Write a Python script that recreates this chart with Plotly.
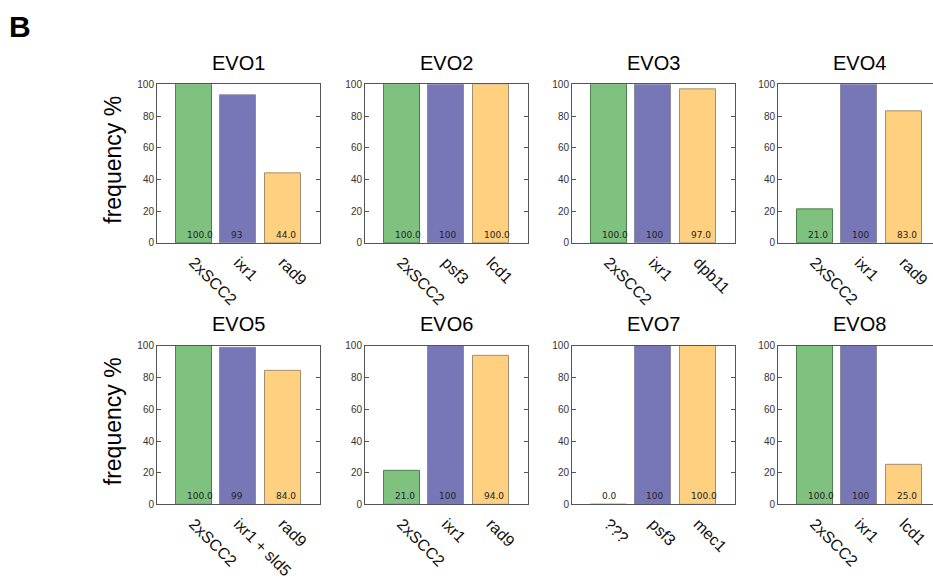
import plotly.graph_objects as go

panel_titles = ["EVO1", "EVO2", "EVO3", "EVO4", "EVO5", "EVO6", "EVO7", "EVO8"]
categories = [
    ["2xSCC2", "ixr1", "rad9"],
    ["2xSCC2", "psf3", "lcd1"],
    ["2xSCC2", "ixr1", "dpb11"],
    ["2xSCC2", "ixr1", "rad9"],
    ["2xSCC2", "ixr1 + sld5", "rad9"],
    ["2xSCC2", "ixr1", "rad9"],
    ["???", "psf3", "mec1"],
    ["2xSCC2", "ixr1", "lcd1"],
]
values = [
    [100, 93, 44],
    [100, 100, 100],
    [100, 100, 97],
    [21, 100, 83],
    [100, 99, 84],
    [21, 100, 94],
    [0, 100, 100],
    [100, 100, 25],
]
y_ticks = [0, 20, 40, 60, 80, 100]

bar_colors = ["#7fc17f", "#7777b8", "#fed080"]
edge_colors = ["#4f7f4f", "#8a8a9a", "#a09070"]

W, H = 933, 581
col_left = [157, 365, 572, 778]
panel_w = 163
row_top = [80, 347]
panel_h = 162
unit_px = 44.7  # pixels per category step

fig = go.Figure()

for k in range(8):
    r, c = divmod(k, 4)
    xa = "x" if k == 0 else f"x{k+1}"
    ya = "y" if k == 0 else f"y{k+1}"
    xl = col_left[c]
    xr = min(xl + panel_w, W)
    x0 = -0.82
    x1 = x0 + (xr - xl) / unit_px
    clipped = (xl + panel_w) > W
    yt = row_top[r]
    yb = yt + panel_h
    vals = values[k]
    fig.add_trace(go.Bar(
        x=[0, 1, 2], y=vals, width=0.8,
        marker=dict(color=bar_colors, line=dict(color=edge_colors, width=1)),
        xaxis=xa, yaxis=ya, showlegend=False, hoverinfo="skip",
    ))
    texts = [f"{vals[0]:.1f}", f"{vals[1]:d}", f"{vals[2]:.1f}"]
    for i, t in enumerate(texts):
        fig.add_annotation(
            x=i - 0.4 + 0.2, y=0, xref=xa, yref=ya, text=t, showarrow=False,
            xanchor="left", yanchor="bottom", yshift=1,
            font=dict(family="DejaVu Sans", size=9, color="#222"),
        )
    fig.update_layout({
        ("xaxis" if k == 0 else f"xaxis{k+1}"): dict(
            domain=[xl / W, xr / W], range=[x0, x1], anchor=ya,
            tickvals=[0, 1, 2], ticktext=categories[k], tickangle=45,
            ticks="", showline=True, linecolor="#555", linewidth=1,
            mirror=True, showgrid=False, zeroline=False, ticklabelstandoff=3,
            tickfont=dict(family="Liberation Sans", size=16, color="#111"),
        ),
        ("yaxis" if k == 0 else f"yaxis{k+1}"): dict(
            domain=[1 - yb / H, 1 - yt / H], range=[0, 100], anchor=xa,
            tickvals=y_ticks, ticks="inside", ticklen=4, tickcolor="#555",
            showline=True, linecolor="#555", linewidth=1,
            mirror=False if clipped else "allticks",
            showgrid=False, zeroline=False,
            tickfont=dict(family="Liberation Sans", size=10, color="#333"),
        ),
    })
    fig.add_annotation(
        x=(xl + panel_w / 2) / W, y=1 - (yt - 22) / H, xref="paper", yref="paper",
        text=panel_titles[k], showarrow=False, xanchor="center", yanchor="middle",
        font=dict(family="Liberation Sans", size=20, color="#000"),
    )

for r in range(2):
    yc = row_top[r] + panel_h / 2 - 4
    fig.add_annotation(
        x=113 / W, y=1 - yc / H, xref="paper", yref="paper", text="frequency %",
        showarrow=False, textangle=-90, xanchor="center", yanchor="middle",
        font=dict(family="Liberation Sans", size=23, color="#000"),
    )

fig.add_annotation(
    x=20 / W, y=1 - 21 / H, xref="paper", yref="paper", text="<b>B</b>",
    showarrow=False, xanchor="center", yanchor="middle",
    font=dict(family="Liberation Sans", size=30, color="#000"),
)

fig.update_layout(
    width=W, height=H, margin=dict(l=0, r=0, t=0, b=0),
    paper_bgcolor="white", plot_bgcolor="white", bargap=0,
)

fig.write_html("out.html")
